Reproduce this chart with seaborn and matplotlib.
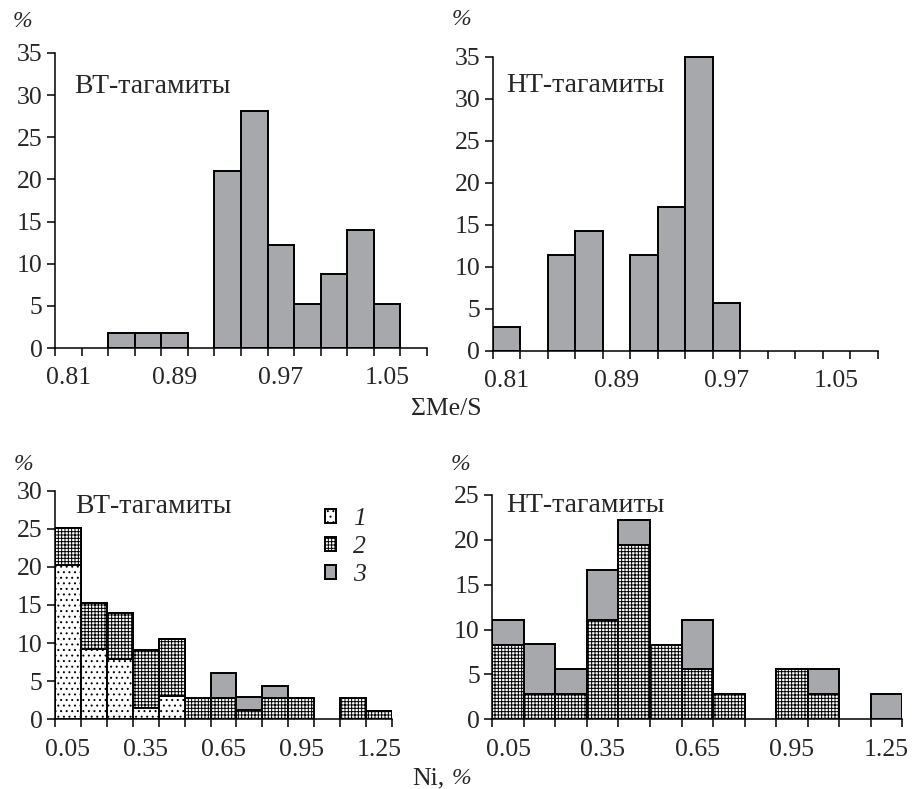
#!/usr/bin/env python3
"""
Histograms of sum Me/S and Ni content for BT- and NT-tagamites (2x2 panel).
Bars are drawn with seaborn.histplot using the bin percentages as weights;
stacked layers are drawn as cumulative overlapping bars.
"""

import matplotlib
matplotlib.use("Agg")
import matplotlib.pyplot as plt
import matplotlib.patches as mpatches
import numpy as np
import pandas as pd
import seaborn as sns

sns.set_theme(style="ticks")
plt.rcParams["font.family"] = ["Liberation Serif", "DejaVu Serif"]
plt.rcParams["hatch.linewidth"] = 0.7
plt.rcParams["hatch.color"] = "black"

GRAY = "#a7a8ab"
DOTS = "..."
GRID = "+++++"
FS = 18.5      # tick labels / axis titles
FS_TITLE = 20  # panel captions

# --- sum Me/S, bin centres (bin width 0.02) ---
mes_centers = [0.81, 0.83, 0.85, 0.87, 0.89, 0.91, 0.93, 0.95, 0.97, 0.99, 1.01, 1.03, 1.05, 1.07]
mes_bt = [0, 0, 1.75, 1.75, 1.75, 0, 21.05, 28.07, 12.28, 5.26, 8.77, 14.04, 5.26, 0]
mes_nt = [2.86, 0, 11.43, 14.29, 0, 11.43, 17.14, 35.0, 5.71, 0, 0, 0, 0, 0]
mes_labels = ["0.81", "0.89", "0.97", "1.05"]

# --- Ni, % : bin centres (bin width 0.1), groups 1/2/3 stacked bottom -> top ---
ni_centers = [0.05, 0.15, 0.25, 0.35, 0.45, 0.55, 0.65, 0.75, 0.85, 0.95, 1.05, 1.15, 1.25]
ni_bt_1 = [20.2, 9.2, 7.9, 1.5, 3.0, 0, 0, 0, 0, 0, 0, 0, 0]
ni_bt_2 = [4.9, 6.1, 6.0, 7.6, 7.5, 2.86, 2.86, 1.2, 2.86, 2.86, 0, 2.86, 1.1]
ni_bt_3 = [0, 0, 0, 0, 0, 0, 3.2, 1.7, 1.5, 0, 0, 0, 0]
ni_nt_2 = [8.33, 2.78, 2.78, 11.11, 19.44, 8.33, 5.56, 2.78, 0, 5.56, 2.78, 0, 0]
ni_nt_3 = [2.78, 5.56, 2.78, 5.56, 2.78, 0, 5.56, 0, 0, 0, 2.78, 0, 2.78]
ni_labels = ["0.05", "0.35", "0.65", "0.95", "1.25"]


def bin_edges(centers):
    c = np.asarray(centers, dtype=float)
    w = c[1] - c[0]
    return np.append(c - w / 2, c[-1] + w / 2)


def stacked_hist(ax, centers, layers):
    """layers: list of (values, facecolor, hatch) from bottom to top."""
    edges = bin_edges(centers)
    for i in range(len(layers) - 1, -1, -1):
        cum = np.sum([np.asarray(l[0], dtype=float) for l in layers[: i + 1]], axis=0)
        _, face, hatch = layers[i]
        df = pd.DataFrame({"x": centers, "pct": cum})
        sns.histplot(data=df, x="x", weights="pct", bins=edges.tolist(), color=face, alpha=1,
                     edgecolor="black", linewidth=1.4, hatch=hatch, ax=ax)
        for p in ax.containers[-1]:
            if p.get_height() <= 0:
                p.set_visible(False)
    return edges


def style_axis(ax, edges, labels, ymax):
    ax.set_xlim(edges[0], edges[-1])
    ax.set_ylim(0, ymax * 1.01)
    ax.spines["left"].set_bounds(0, ymax)
    ax.spines["bottom"].set_bounds(edges[0], edges[-1])
    for s in ("top", "right"):
        ax.spines[s].set_visible(False)
    for s in ("left", "bottom"):
        ax.spines[s].set_linewidth(1.1)
        ax.spines[s].set_color("black")
    ax.set_yticks(np.arange(0, ymax + 1, 5))
    ax.set_xticks(edges, minor=True)
    ax.set_xticks([float(t) for t in labels], labels)
    ax.tick_params(axis="x", which="major", length=0, pad=14, labelsize=FS)
    ax.tick_params(axis="x", which="minor", length=6, width=1.1, color="black", direction="out")
    ax.tick_params(axis="y", length=6, width=1.1, color="black", pad=3, labelsize=FS)
    ax.set_xlabel("")
    ax.set_ylabel("")


fig = plt.figure(figsize=(9.18, 7.89), dpi=100)
ax_tl = fig.add_axes([0.0599, 0.5589, 0.4052, 0.3777])
ax_tr = fig.add_axes([0.5367, 0.5555, 0.4194, 0.3760])
ax_bl = fig.add_axes([0.0599, 0.0883, 0.3671, 0.2928])
ax_br = fig.add_axes([0.5363, 0.0883, 0.4466, 0.2872])

# top row: sum Me/S
e = stacked_hist(ax_tl, mes_centers, [(mes_bt, GRAY, None)])
style_axis(ax_tl, e, mes_labels, 35)
ax_tl.text(0.051, 0.876, "ВТ-тагамиты", transform=ax_tl.transAxes, fontsize=FS_TITLE, va="center")

e = stacked_hist(ax_tr, mes_centers, [(mes_nt, GRAY, None)])
style_axis(ax_tr, e, mes_labels, 35)
ax_tr.text(0.036, 0.8955, "НТ-тагамиты", transform=ax_tr.transAxes, fontsize=FS_TITLE, va="center")

# bottom row: Ni
e = stacked_hist(ax_bl, ni_centers, [(ni_bt_1, "white", DOTS), (ni_bt_2, "white", GRID), (ni_bt_3, GRAY, None)])
style_axis(ax_bl, e, ni_labels, 30)
ax_bl.text(0.059, 0.92, "ВТ-тагамиты", transform=ax_bl.transAxes, fontsize=FS_TITLE, va="center")

e = stacked_hist(ax_br, ni_centers, [(ni_nt_2, "white", GRID), (ni_nt_3, GRAY, None)])
style_axis(ax_br, e, ni_labels, 25)
ax_br.text(0.033, 0.9457, "НТ-тагамиты", transform=ax_br.transAxes, fontsize=FS_TITLE, va="center")

# legend for groups 1-3
handles = [
    mpatches.Patch(facecolor="white", edgecolor="black", hatch=DOTS, linewidth=1.4),
    mpatches.Patch(facecolor="white", edgecolor="black", hatch=GRID, linewidth=1.4),
    mpatches.Patch(facecolor=GRAY, edgecolor="black", linewidth=1.4),
]
ax_bl.legend(handles, ["1", "2", "3"], loc="upper left", bbox_to_anchor=(0.80, 0.915),
             frameon=False, borderpad=0, borderaxespad=0, handlelength=0.45, handleheight=0.45,
             handletextpad=0.65, labelspacing=0.24,
             prop={"family": "Liberation Serif", "style": "italic", "size": FS})

# "%" unit marks above the y axes
for x, y in [(0.025, 0.973), (0.503, 0.975), (0.026, 0.411), (0.502, 0.411)]:
    fig.text(x, y, "%", fontsize=17, style="italic", ha="center", va="center")

# shared x-axis titles
fig.text(0.486, 0.481, "ΣMe/S", fontsize=FS, ha="center", va="center")
fig.text(0.484, 0.0135, "Ni,", fontsize=FS, ha="right", va="center")
fig.text(0.492, 0.0135, "%", fontsize=17, style="italic", ha="left", va="center")

fig.savefig("out.png", dpi=100)
plt.close(fig)
